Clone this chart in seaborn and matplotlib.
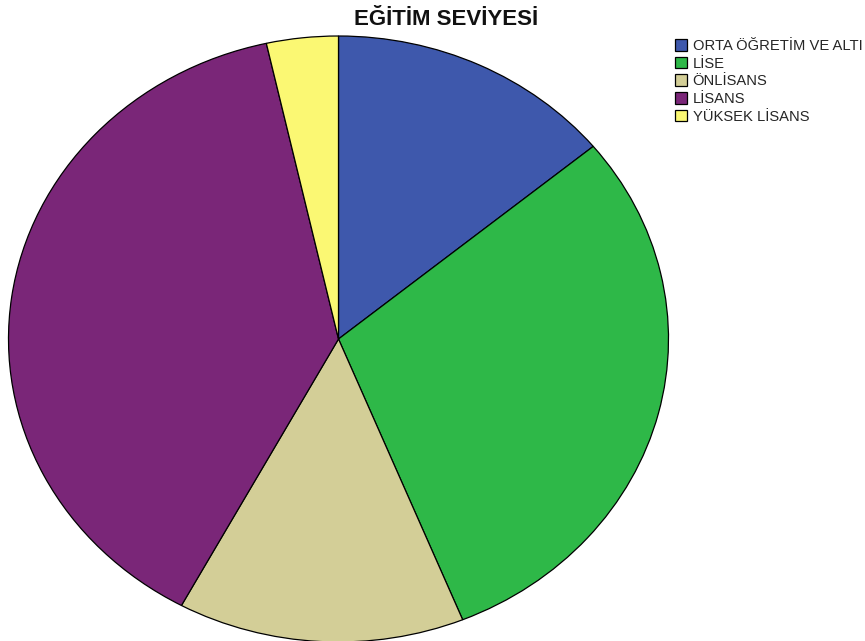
import matplotlib
matplotlib.use("Agg")
import matplotlib.pyplot as plt
import seaborn as sns

# Education level counts
categories = ["ORTA ÖĞRETİM VE ALTI", "LİSE", "ÖNLİSANS", "LİSANS", "YÜKSEK LİSANS"]
counts = [8, 17, 8, 22, 2]
colors = ["#3E58AC", "#2EB848", "#D3CE97", "#7A2678", "#FBF873"]
title = "EĞİTİM SEVİYESİ"

sns.set_theme(style="white")
plt.rcParams["font.family"] = ["Liberation Sans", "DejaVu Sans"]

W, H = 865, 641
fig = plt.figure(figsize=(W / 100, H / 100), dpi=100)

# Elliptical pie: center (339, 339) px, radii 330 x 303 px
cx, cy, rx, ry = 338.5, 339.0, 330.0, 303.0
pad = 1.03
ax = fig.add_axes([(cx - rx * pad) / W, (H - cy - ry * pad) / H,
                   2 * rx * pad / W, 2 * ry * pad / H])
wedges, _ = ax.pie(counts, colors=colors, startangle=90, counterclock=False,
                   wedgeprops=dict(edgecolor="black", linewidth=0.9))
ax.set_xlim(-pad, pad)
ax.set_ylim(-pad, pad)
ax.set_aspect("auto")
ax.axis("off")

fig.text(446 / W, 1 - 19.5 / H, title, ha="center", va="center",
         fontsize=16, fontweight="bold", color="#111111")

fig.legend(wedges, categories, loc="upper left",
           bbox_to_anchor=(672 / W, 1 - 36 / H), frameon=False,
           fontsize=10.6, handlelength=0.85, handleheight=0.85,
           handletextpad=0.35, labelspacing=0.25, borderpad=0.2,
           borderaxespad=0)

fig.savefig("out.png", dpi=100)
